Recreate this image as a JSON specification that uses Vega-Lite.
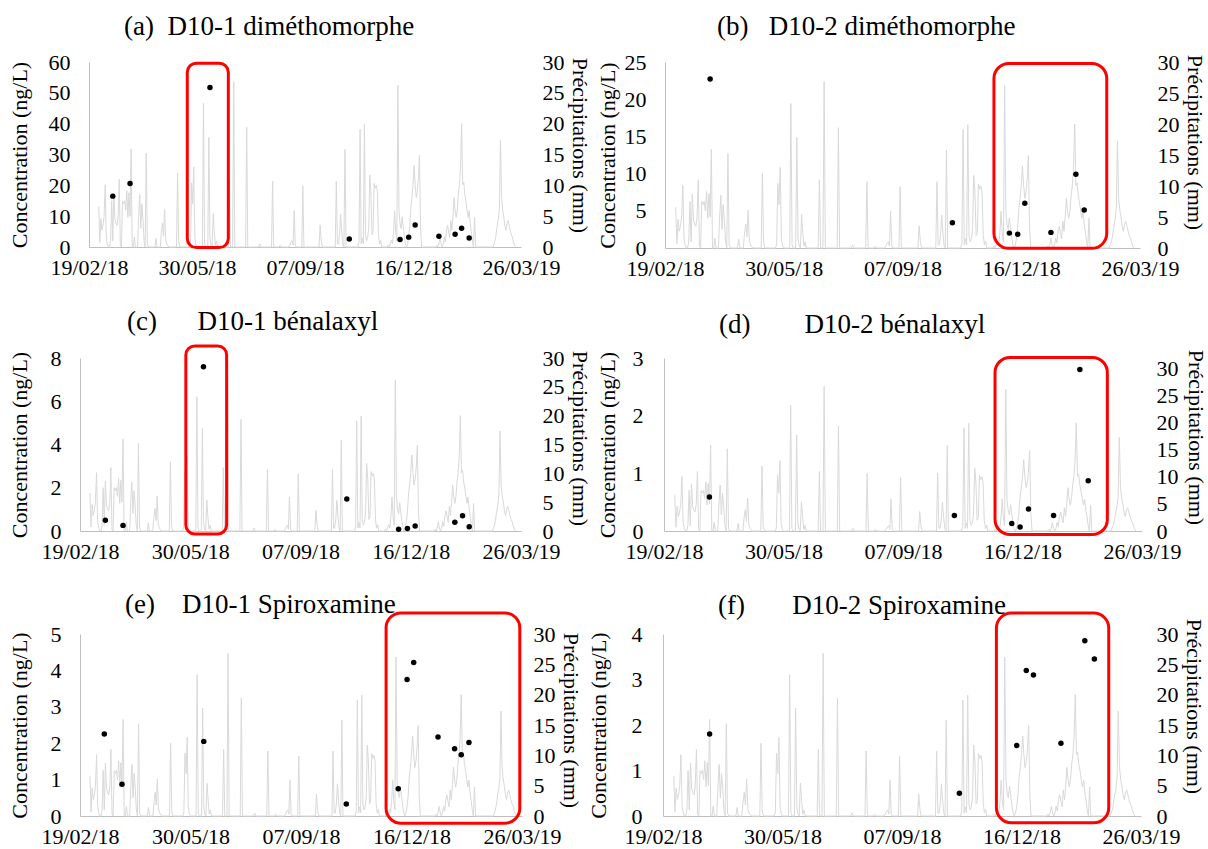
{
"$schema": "https://vega.github.io/schema/vega-lite/v6.json",
"background": "white",
"padding": {"left": 8, "top": 13, "right": 0, "bottom": 5},
"config": {
  "font": "Liberation Serif",
  "view": {"stroke": null},
  "axis": {"grid": false, "ticks": false, "domainColor": "#bfbfbf", "labelFontSize": 22, "titleFontSize": 22, "labelColor": "black", "titleColor": "black", "titleFontWeight": "normal", "labelFont": "Liberation Serif", "titleFont": "Liberation Serif", "labelOverlap": false},
  "axisX": {"labelExpr": "utcFormat(datum.value, '%d/%m/%y')", "labelPadding": 10, "labelFlush": false, "labelOverlap": false},
  "title": {"font": "Liberation Serif", "fontSize": 27, "fontWeight": "normal", "color": "black", "anchor": "start", "frame": "group", "offset": 8}
},
"datasets": {
  "pluie": [
    {"date":"2018-02-28","mm":6.6},{"date":"2018-03-01","mm":0.7},{"date":"2018-03-02","mm":4.6},{"date":"2018-03-03","mm":2.7},{"date":"2018-03-04","mm":3.5},{"date":"2018-03-05","mm":5.0},{"date":"2018-03-06","mm":10.1},{"date":"2018-03-07","mm":1.5},{"date":"2018-03-08","mm":0.5},{"date":"2018-03-09","mm":0},{"date":"2018-03-10","mm":0},{"date":"2018-03-11","mm":1.0},{"date":"2018-03-12","mm":7.5},{"date":"2018-03-13","mm":1.0},{"date":"2018-03-14","mm":8.7},{"date":"2018-03-15","mm":4.5},{"date":"2018-03-16","mm":3.8},{"date":"2018-03-17","mm":3.5},{"date":"2018-03-18","mm":5.0},{"date":"2018-03-19","mm":11.0},{"date":"2018-03-20","mm":0.3},{"date":"2018-03-21","mm":0},{"date":"2018-03-22","mm":7.5},{"date":"2018-03-23","mm":7.0},{"date":"2018-03-24","mm":7.5},{"date":"2018-03-25","mm":6.0},{"date":"2018-03-26","mm":9.1},{"date":"2018-03-27","mm":4.8},{"date":"2018-03-28","mm":8.8},{"date":"2018-03-29","mm":5.0},{"date":"2018-03-30","mm":15.9},{"date":"2018-03-31","mm":0},{"date":"2018-04-01","mm":0},{"date":"2018-04-02","mm":1.6},{"date":"2018-04-03","mm":0},{"date":"2018-04-05","mm":0},{"date":"2018-04-06","mm":5.0},{"date":"2018-04-07","mm":8.5},{"date":"2018-04-08","mm":3.0},{"date":"2018-04-09","mm":7.0},{"date":"2018-04-10","mm":4.5},{"date":"2018-04-11","mm":1.0},{"date":"2018-04-12","mm":0},{"date":"2018-04-13","mm":15.2},{"date":"2018-04-14","mm":0.5},{"date":"2018-04-15","mm":0},{"date":"2018-04-21","mm":0},{"date":"2018-04-22","mm":1.4},{"date":"2018-04-23","mm":0},{"date":"2018-04-26","mm":0},{"date":"2018-04-27","mm":2.4},{"date":"2018-04-28","mm":3.9},{"date":"2018-04-29","mm":1.8},{"date":"2018-04-30","mm":6.1},{"date":"2018-05-01","mm":1.2},{"date":"2018-05-02","mm":0.5},{"date":"2018-05-03","mm":0.2},{"date":"2018-05-04","mm":0},{"date":"2018-05-11","mm":0},{"date":"2018-05-12","mm":12.0},{"date":"2018-05-13","mm":1.0},{"date":"2018-05-14","mm":0},{"date":"2018-05-23","mm":0},{"date":"2018-05-24","mm":0.5},{"date":"2018-05-25","mm":10.4},{"date":"2018-05-26","mm":7.0},{"date":"2018-05-27","mm":13.0},{"date":"2018-05-28","mm":1.5},{"date":"2018-05-29","mm":0.3},{"date":"2018-05-30","mm":0},{"date":"2018-06-04","mm":0},{"date":"2018-06-05","mm":23.3},{"date":"2018-06-06","mm":0.5},{"date":"2018-06-07","mm":0},{"date":"2018-06-09","mm":0},{"date":"2018-06-10","mm":17.8},{"date":"2018-06-11","mm":1.5},{"date":"2018-06-12","mm":0.3},{"date":"2018-06-13","mm":0},{"date":"2018-06-14","mm":5.4},{"date":"2018-06-15","mm":2.5},{"date":"2018-06-16","mm":0.3},{"date":"2018-06-17","mm":1.0},{"date":"2018-06-18","mm":0},{"date":"2018-06-28","mm":0},{"date":"2018-06-29","mm":11.0},{"date":"2018-06-30","mm":0},{"date":"2018-07-02","mm":0},{"date":"2018-07-03","mm":26.8},{"date":"2018-07-04","mm":0},{"date":"2018-07-14","mm":0},{"date":"2018-07-15","mm":19.4},{"date":"2018-07-16","mm":0},{"date":"2018-07-26","mm":0},{"date":"2018-07-27","mm":0.5},{"date":"2018-07-28","mm":0},{"date":"2018-08-07","mm":0},{"date":"2018-08-08","mm":10.7},{"date":"2018-08-09","mm":0},{"date":"2018-08-14","mm":0},{"date":"2018-08-15","mm":0.3},{"date":"2018-08-16","mm":0},{"date":"2018-08-23","mm":0},{"date":"2018-08-24","mm":0.3},{"date":"2018-08-25","mm":0.8},{"date":"2018-08-26","mm":1.0},{"date":"2018-08-27","mm":0.3},{"date":"2018-08-28","mm":5.9},{"date":"2018-08-29","mm":0.3},{"date":"2018-08-30","mm":0},{"date":"2018-09-04","mm":0},{"date":"2018-09-05","mm":9.9},{"date":"2018-09-06","mm":0},{"date":"2018-09-20","mm":0},{"date":"2018-09-21","mm":3.6},{"date":"2018-09-22","mm":1.1},{"date":"2018-09-23","mm":0},{"date":"2018-10-05","mm":0},{"date":"2018-10-06","mm":10.7},{"date":"2018-10-07","mm":0.5},{"date":"2018-10-08","mm":0.5},{"date":"2018-10-09","mm":2.0},{"date":"2018-10-10","mm":5.3},{"date":"2018-10-11","mm":2.5},{"date":"2018-10-12","mm":0.5},{"date":"2018-10-13","mm":0},{"date":"2018-10-14","mm":15.8},{"date":"2018-10-15","mm":0},{"date":"2018-10-26","mm":0},{"date":"2018-10-27","mm":0.8},{"date":"2018-10-28","mm":19.1},{"date":"2018-10-29","mm":0.5},{"date":"2018-10-30","mm":1.5},{"date":"2018-10-31","mm":0.5},{"date":"2018-11-01","mm":19.9},{"date":"2018-11-02","mm":2.0},{"date":"2018-11-03","mm":1.0},{"date":"2018-11-04","mm":1.5},{"date":"2018-11-05","mm":3.0},{"date":"2018-11-06","mm":11.7},{"date":"2018-11-07","mm":9.0},{"date":"2018-11-08","mm":2.0},{"date":"2018-11-09","mm":2.5},{"date":"2018-11-10","mm":10.3},{"date":"2018-11-11","mm":9.5},{"date":"2018-11-12","mm":10.0},{"date":"2018-11-13","mm":9.0},{"date":"2018-11-14","mm":2.0},{"date":"2018-11-15","mm":0.5},{"date":"2018-11-16","mm":1.1},{"date":"2018-11-17","mm":0},{"date":"2018-11-22","mm":0},{"date":"2018-11-23","mm":0.3},{"date":"2018-11-24","mm":0},{"date":"2018-11-26","mm":1.1},{"date":"2018-11-27","mm":0.5},{"date":"2018-11-28","mm":2.4},{"date":"2018-11-29","mm":5.9},{"date":"2018-11-30","mm":2.4},{"date":"2018-12-01","mm":1.0},{"date":"2018-12-02","mm":26.2},{"date":"2018-12-03","mm":5.9},{"date":"2018-12-04","mm":3.8},{"date":"2018-12-05","mm":3.0},{"date":"2018-12-06","mm":4.9},{"date":"2018-12-07","mm":3.3},{"date":"2018-12-08","mm":1.6},{"date":"2018-12-09","mm":0.5},{"date":"2018-12-10","mm":0},{"date":"2018-12-11","mm":0.5},{"date":"2018-12-12","mm":1.6},{"date":"2018-12-13","mm":3.3},{"date":"2018-12-14","mm":6.5},{"date":"2018-12-15","mm":8.0},{"date":"2018-12-16","mm":10.1},{"date":"2018-12-17","mm":13.2},{"date":"2018-12-18","mm":10.1},{"date":"2018-12-19","mm":8.0},{"date":"2018-12-20","mm":9.0},{"date":"2018-12-21","mm":11.1},{"date":"2018-12-22","mm":14.9},{"date":"2018-12-23","mm":3.3},{"date":"2018-12-24","mm":0},{"date":"2019-01-06","mm":0},{"date":"2019-01-07","mm":0.3},{"date":"2019-01-08","mm":0},{"date":"2019-01-09","mm":0.5},{"date":"2019-01-10","mm":1.6},{"date":"2019-01-11","mm":0.5},{"date":"2019-01-12","mm":0},{"date":"2019-01-13","mm":0.5},{"date":"2019-01-14","mm":1.6},{"date":"2019-01-15","mm":0.8},{"date":"2019-01-16","mm":2.7},{"date":"2019-01-17","mm":3.5},{"date":"2019-01-18","mm":2.4},{"date":"2019-01-19","mm":1.5},{"date":"2019-01-20","mm":4.3},{"date":"2019-01-21","mm":2.7},{"date":"2019-01-22","mm":5.0},{"date":"2019-01-23","mm":8.0},{"date":"2019-01-24","mm":5.9},{"date":"2019-01-25","mm":4.8},{"date":"2019-01-26","mm":6.0},{"date":"2019-01-27","mm":8.5},{"date":"2019-01-28","mm":10.1},{"date":"2019-01-29","mm":13.0},{"date":"2019-01-30","mm":20.0},{"date":"2019-01-31","mm":10.1},{"date":"2019-02-01","mm":10.5},{"date":"2019-02-02","mm":8.5},{"date":"2019-02-03","mm":7.4},{"date":"2019-02-04","mm":6.0},{"date":"2019-02-05","mm":4.8},{"date":"2019-02-06","mm":5.9},{"date":"2019-02-07","mm":3.8},{"date":"2019-02-08","mm":2.5},{"date":"2019-02-09","mm":1.0},{"date":"2019-02-10","mm":0},{"date":"2019-02-11","mm":4.8},{"date":"2019-02-12","mm":0},{"date":"2019-02-28","mm":0},{"date":"2019-03-01","mm":0.5},{"date":"2019-03-02","mm":1.0},{"date":"2019-03-03","mm":2.1},{"date":"2019-03-04","mm":3.5},{"date":"2019-03-05","mm":4.5},{"date":"2019-03-06","mm":6.3},{"date":"2019-03-07","mm":17.3},{"date":"2019-03-08","mm":8.0},{"date":"2019-03-09","mm":6.1},{"date":"2019-03-10","mm":5.0},{"date":"2019-03-11","mm":3.5},{"date":"2019-03-12","mm":2.7},{"date":"2019-03-13","mm":3.8},{"date":"2019-03-14","mm":4.3},{"date":"2019-03-15","mm":3.5},{"date":"2019-03-16","mm":2.7},{"date":"2019-03-17","mm":2.0},{"date":"2019-03-18","mm":1.6},{"date":"2019-03-19","mm":0.8},{"date":"2019-03-20","mm":0.3},{"date":"2019-03-21","mm":0}
  ],
  "conc": [
    {"panel":"a","date":"2018-03-13","conc":16.5},{"panel":"a","date":"2018-03-29","conc":20.6},{"panel":"a","date":"2018-06-11","conc":51.7},{"panel":"a","date":"2018-10-18","conc":2.6},{"panel":"a","date":"2018-12-04","conc":2.4},{"panel":"a","date":"2018-12-12","conc":3.2},{"panel":"a","date":"2018-12-18","conc":7.1},{"panel":"a","date":"2019-01-09","conc":3.5},{"panel":"a","date":"2019-01-24","conc":4.1},{"panel":"a","date":"2019-01-30","conc":6.1},{"panel":"a","date":"2019-02-06","conc":2.9},
    {"panel":"b","date":"2018-03-29","conc":22.7},{"panel":"b","date":"2018-10-19","conc":3.4},{"panel":"b","date":"2018-12-06","conc":2.0},{"panel":"b","date":"2018-12-13","conc":1.85},{"panel":"b","date":"2018-12-19","conc":6.0},{"panel":"b","date":"2019-01-10","conc":2.1},{"panel":"b","date":"2019-01-31","conc":9.9},{"panel":"b","date":"2019-02-07","conc":5.1},
    {"panel":"c","date":"2018-03-14","conc":0.5},{"panel":"c","date":"2018-03-30","conc":0.26},{"panel":"c","date":"2018-06-11","conc":7.6},{"panel":"c","date":"2018-10-19","conc":1.48},{"panel":"c","date":"2018-12-05","conc":0.08},{"panel":"c","date":"2018-12-13","conc":0.12},{"panel":"c","date":"2018-12-20","conc":0.23},{"panel":"c","date":"2019-01-25","conc":0.4},{"panel":"c","date":"2019-02-01","conc":0.71},{"panel":"c","date":"2019-02-07","conc":0.2},
    {"panel":"d","date":"2018-03-29","conc":0.59},{"panel":"d","date":"2018-10-20","conc":0.27},{"panel":"d","date":"2018-12-07","conc":0.13},{"panel":"d","date":"2018-12-14","conc":0.07},{"panel":"d","date":"2018-12-21","conc":0.38},{"panel":"d","date":"2019-01-11","conc":0.27},{"panel":"d","date":"2019-02-02","conc":2.8},{"panel":"d","date":"2019-02-09","conc":0.87},
    {"panel":"e","date":"2018-03-13","conc":2.25},{"panel":"e","date":"2018-03-29","conc":0.87},{"panel":"e","date":"2018-06-11","conc":2.05},{"panel":"e","date":"2018-10-18","conc":0.33},{"panel":"e","date":"2018-12-04","conc":0.75},{"panel":"e","date":"2018-12-12","conc":3.75},{"panel":"e","date":"2018-12-18","conc":4.22},{"panel":"e","date":"2019-01-09","conc":2.17},{"panel":"e","date":"2019-01-24","conc":1.85},{"panel":"e","date":"2019-01-30","conc":1.68},{"panel":"e","date":"2019-02-06","conc":2.02},
    {"panel":"f","date":"2018-03-30","conc":1.8},{"panel":"f","date":"2018-10-25","conc":0.5},{"panel":"f","date":"2018-12-12","conc":1.55},{"panel":"f","date":"2018-12-20","conc":3.2},{"panel":"f","date":"2018-12-26","conc":3.1},{"panel":"f","date":"2019-01-18","conc":1.6},{"panel":"f","date":"2019-02-07","conc":3.85},{"panel":"f","date":"2019-02-15","conc":3.45}
  ],
  "cadres": [
    {"panel":"a","debut":"2018-05-21","fin":"2018-06-28","haut":59.6,"bas":-0.2},
    {"panel":"b","debut":"2018-11-23","fin":"2019-02-26","haut":24.8,"bas":-0.05},
    {"panel":"c","debut":"2018-05-26","fin":"2018-07-02","haut":8.56,"bas":-0.14},
    {"panel":"d","debut":"2018-11-23","fin":"2019-02-25","haut":3.01,"bas":-0.06},
    {"panel":"e","debut":"2018-11-23","fin":"2019-03-24","haut":5.58,"bas":-0.2},
    {"panel":"f","debut":"2018-11-25","fin":"2019-02-27","haut":4.46,"bas":-0.15}
  ]
},
"spacing": 29,
"vconcat": [
 {"spacing": 6, "hconcat": [
  {"width": 432, "height": 185,
   "title": {"text": "(a)\u00a0\u00a0D10-1 diméthomorphe", "dx": 35, "offset": 10},
   "layer": [
    {"data": {"name": "pluie"}, "mark": {"type": "line", "color": "#d9d9d9", "strokeWidth": 1},
     "encoding": {
      "x": {"field": "date", "type": "temporal", "title": null, "scale": {"type": "utc", "domain": [{"year":2018,"month":2,"date":19,"utc":true},{"year":2019,"month":3,"date":26,"utc":true}]}, "axis": {"values": [{"year":2018,"month":2,"date":19,"utc":true},{"year":2018,"month":5,"date":30,"utc":true},{"year":2018,"month":9,"date":7,"utc":true},{"year":2018,"month":12,"date":16,"utc":true},{"year":2019,"month":3,"date":26,"utc":true}]}},
      "y": {"field": "mm", "type": "quantitative", "scale": {"domain": [0, 30]}, "axis": {"orient": "right", "title": "Précipitations (mm)", "values": [0,5,10,15,20,25,30], "domain": false, "labelPadding": 21, "titlePadding": 3, "titleY": 83}}}},
    {"layer": [
     {"data": {"name": "conc"}, "transform": [{"filter": "datum.panel == 'a'"}], "mark": {"type": "circle", "color": "black", "size": 30, "opacity": 1},
      "encoding": {"x": {"field": "date", "type": "temporal", "title": null, "axis": {"values": [{"year":2018,"month":2,"date":19,"utc":true},{"year":2018,"month":5,"date":30,"utc":true},{"year":2018,"month":9,"date":7,"utc":true},{"year":2018,"month":12,"date":16,"utc":true},{"year":2019,"month":3,"date":26,"utc":true}]}}, "y": {"field": "conc", "type": "quantitative", "scale": {"domain": [0, 60]}, "axis": {"orient": "left", "title": "Concentration (ng/L)", "values": [0,10,20,30,40,50,60], "format": "d", "labelPadding": 19, "titlePadding": 17}}}},
     {"data": {"name": "cadres"}, "transform": [{"filter": "datum.panel == 'a'"}], "mark": {"type": "rect", "fill": null, "stroke": "#ff0000", "strokeWidth": 3, "cornerRadius": 9},
      "encoding": {"x": {"field": "debut", "type": "temporal", "title": null, "axis": {"values": [{"year":2018,"month":2,"date":19,"utc":true},{"year":2018,"month":5,"date":30,"utc":true},{"year":2018,"month":9,"date":7,"utc":true},{"year":2018,"month":12,"date":16,"utc":true},{"year":2019,"month":3,"date":26,"utc":true}]}}, "x2": {"field": "fin"}, "y": {"field": "haut", "type": "quantitative", "scale": {"domain": [0, 60]}, "axis": {"orient": "left", "title": "Concentration (ng/L)", "values": [0,10,20,30,40,50,60], "format": "d", "labelPadding": 19, "titlePadding": 17}}, "y2": {"field": "bas"}}}
    ]}
   ],
   "resolve": {"scale": {"y": "independent"}}
  },
  {"width": 475, "height": 186,
   "title": {"text": "(b)\u00a0\u00a0\u00a0D10-2 diméthomorphe", "dx": 52, "offset": 10},
   "layer": [
    {"data": {"name": "pluie"}, "mark": {"type": "line", "color": "#d9d9d9", "strokeWidth": 1},
     "encoding": {
      "x": {"field": "date", "type": "temporal", "title": null, "scale": {"type": "utc", "domain": [{"year":2018,"month":2,"date":19,"utc":true},{"year":2019,"month":3,"date":26,"utc":true}]}, "axis": {"values": [{"year":2018,"month":2,"date":19,"utc":true},{"year":2018,"month":5,"date":30,"utc":true},{"year":2018,"month":9,"date":7,"utc":true},{"year":2018,"month":12,"date":16,"utc":true},{"year":2019,"month":3,"date":26,"utc":true}]}},
      "y": {"field": "mm", "type": "quantitative", "scale": {"domain": [0, 30]}, "axis": {"orient": "right", "title": "Précipitations (mm)", "values": [0,5,10,15,20,25,30], "domain": false, "labelPadding": 17, "titlePadding": 3, "titleY": 80}}}},
    {"layer": [
     {"data": {"name": "conc"}, "transform": [{"filter": "datum.panel == 'b'"}], "mark": {"type": "circle", "color": "black", "size": 30, "opacity": 1},
      "encoding": {"x": {"field": "date", "type": "temporal", "title": null, "axis": {"values": [{"year":2018,"month":2,"date":19,"utc":true},{"year":2018,"month":5,"date":30,"utc":true},{"year":2018,"month":9,"date":7,"utc":true},{"year":2018,"month":12,"date":16,"utc":true},{"year":2019,"month":3,"date":26,"utc":true}]}}, "y": {"field": "conc", "type": "quantitative", "scale": {"domain": [0, 25]}, "axis": {"orient": "left", "title": "Concentration (ng/L)", "values": [0,5,10,15,20,25], "format": "d", "labelPadding": 19, "titlePadding": 5}}}},
     {"data": {"name": "cadres"}, "transform": [{"filter": "datum.panel == 'b'"}], "mark": {"type": "rect", "fill": null, "stroke": "#ff0000", "strokeWidth": 3, "cornerRadius": 15},
      "encoding": {"x": {"field": "debut", "type": "temporal", "title": null, "axis": {"values": [{"year":2018,"month":2,"date":19,"utc":true},{"year":2018,"month":5,"date":30,"utc":true},{"year":2018,"month":9,"date":7,"utc":true},{"year":2018,"month":12,"date":16,"utc":true},{"year":2019,"month":3,"date":26,"utc":true}]}}, "x2": {"field": "fin"}, "y": {"field": "haut", "type": "quantitative", "scale": {"domain": [0, 25]}, "axis": {"orient": "left", "title": "Concentration (ng/L)", "values": [0,5,10,15,20,25], "format": "d", "labelPadding": 19, "titlePadding": 5}}, "y2": {"field": "bas"}}}
    ]}
   ],
   "resolve": {"scale": {"y": "independent"}}
  }
 ]},
 {"spacing": 6, "hconcat": [
  {"width": 432, "height": 173,
   "title": {"text": "(c)\u00a0\u00a0\u00a0\u00a0\u00a0\u00a0D10-1 bénalaxyl", "dx": 38},
   "layer": [
    {"data": {"name": "pluie"}, "mark": {"type": "line", "color": "#d9d9d9", "strokeWidth": 1},
     "encoding": {
      "x": {"field": "date", "type": "temporal", "title": null, "scale": {"type": "utc", "range": [-9, 432], "domain": [{"year":2018,"month":2,"date":19,"utc":true},{"year":2019,"month":3,"date":26,"utc":true}]}, "axis": {"values": [{"year":2018,"month":2,"date":19,"utc":true},{"year":2018,"month":5,"date":30,"utc":true},{"year":2018,"month":9,"date":7,"utc":true},{"year":2018,"month":12,"date":16,"utc":true},{"year":2019,"month":3,"date":26,"utc":true}]}},
      "y": {"field": "mm", "type": "quantitative", "scale": {"domain": [0, 30]}, "axis": {"orient": "right", "title": "Précipitations (mm)", "values": [0,5,10,15,20,25,30], "domain": false, "labelPadding": 21, "titlePadding": 3, "titleY": 80}}}},
    {"layer": [
     {"data": {"name": "conc"}, "transform": [{"filter": "datum.panel == 'c'"}], "mark": {"type": "circle", "color": "black", "size": 30, "opacity": 1},
      "encoding": {"x": {"field": "date", "type": "temporal", "title": null, "axis": {"values": [{"year":2018,"month":2,"date":19,"utc":true},{"year":2018,"month":5,"date":30,"utc":true},{"year":2018,"month":9,"date":7,"utc":true},{"year":2018,"month":12,"date":16,"utc":true},{"year":2019,"month":3,"date":26,"utc":true}]}}, "y": {"field": "conc", "type": "quantitative", "scale": {"domain": [0, 8]}, "axis": {"orient": "left", "offset": 9, "title": "Concentration (ng/L)", "values": [0,2,4,6,8], "format": "d", "labelPadding": 19, "titlePadding": 19}}}},
     {"data": {"name": "cadres"}, "transform": [{"filter": "datum.panel == 'c'"}], "mark": {"type": "rect", "fill": null, "stroke": "#ff0000", "strokeWidth": 3, "cornerRadius": 9},
      "encoding": {"x": {"field": "debut", "type": "temporal", "title": null, "axis": {"values": [{"year":2018,"month":2,"date":19,"utc":true},{"year":2018,"month":5,"date":30,"utc":true},{"year":2018,"month":9,"date":7,"utc":true},{"year":2018,"month":12,"date":16,"utc":true},{"year":2019,"month":3,"date":26,"utc":true}]}}, "x2": {"field": "fin"}, "y": {"field": "haut", "type": "quantitative", "scale": {"domain": [0, 8]}, "axis": {"orient": "left", "offset": 9, "title": "Concentration (ng/L)", "values": [0,2,4,6,8], "format": "d", "labelPadding": 19, "titlePadding": 19}}, "y2": {"field": "bas"}}}
    ]}
   ],
   "resolve": {"scale": {"y": "independent"}}
  },
  {"width": 478, "height": 173,
   "title": {"text": "(d)\u00a0\u00a0\u00a0\u00a0\u00a0\u00a0\u00a0\u00a0D10-2 bénalaxyl", "dx": 55},
   "layer": [
    {"data": {"name": "pluie"}, "mark": {"type": "line", "color": "#d9d9d9", "strokeWidth": 1},
     "encoding": {
      "x": {"field": "date", "type": "temporal", "title": null, "scale": {"type": "utc", "domain": [{"year":2018,"month":2,"date":19,"utc":true},{"year":2019,"month":3,"date":26,"utc":true}]}, "axis": {"values": [{"year":2018,"month":2,"date":19,"utc":true},{"year":2018,"month":5,"date":30,"utc":true},{"year":2018,"month":9,"date":7,"utc":true},{"year":2018,"month":12,"date":16,"utc":true},{"year":2019,"month":3,"date":26,"utc":true}]}},
      "y": {"field": "mm", "type": "quantitative", "scale": {"domain": [0, 32]}, "axis": {"orient": "right", "title": "Précipitations (mm)", "values": [0,5,10,15,20,25,30], "domain": false, "labelPadding": 14, "titlePadding": 5, "titleY": 79}}}},
    {"layer": [
     {"data": {"name": "conc"}, "transform": [{"filter": "datum.panel == 'd'"}], "mark": {"type": "circle", "color": "black", "size": 30, "opacity": 1},
      "encoding": {"x": {"field": "date", "type": "temporal", "title": null, "axis": {"values": [{"year":2018,"month":2,"date":19,"utc":true},{"year":2018,"month":5,"date":30,"utc":true},{"year":2018,"month":9,"date":7,"utc":true},{"year":2018,"month":12,"date":16,"utc":true},{"year":2019,"month":3,"date":26,"utc":true}]}}, "y": {"field": "conc", "type": "quantitative", "scale": {"domain": [0, 3]}, "axis": {"orient": "left", "title": "Concentration (ng/L)", "values": [0,1,2,3], "format": "d", "labelPadding": 21, "titlePadding": 13}}}},
     {"data": {"name": "cadres"}, "transform": [{"filter": "datum.panel == 'd'"}], "mark": {"type": "rect", "fill": null, "stroke": "#ff0000", "strokeWidth": 3, "cornerRadius": 15},
      "encoding": {"x": {"field": "debut", "type": "temporal", "title": null, "axis": {"values": [{"year":2018,"month":2,"date":19,"utc":true},{"year":2018,"month":5,"date":30,"utc":true},{"year":2018,"month":9,"date":7,"utc":true},{"year":2018,"month":12,"date":16,"utc":true},{"year":2019,"month":3,"date":26,"utc":true}]}}, "x2": {"field": "fin"}, "y": {"field": "haut", "type": "quantitative", "scale": {"domain": [0, 3]}, "axis": {"orient": "left", "title": "Concentration (ng/L)", "values": [0,1,2,3], "format": "d", "labelPadding": 21, "titlePadding": 13}}, "y2": {"field": "bas"}}}
    ]}
   ],
   "resolve": {"scale": {"y": "independent"}}
  }
 ]},
 {"spacing": 6, "hconcat": [
  {"width": 433, "height": 182,
   "title": {"text": "(e)\u00a0\u00a0\u00a0\u00a0D10-1 Spiroxamine", "dx": 36, "offset": -8},
   "layer": [
    {"data": {"name": "pluie"}, "mark": {"type": "line", "color": "#d9d9d9", "strokeWidth": 1},
     "encoding": {
      "x": {"field": "date", "type": "temporal", "title": null, "scale": {"type": "utc", "range": [-9, 433], "domain": [{"year":2018,"month":2,"date":19,"utc":true},{"year":2019,"month":3,"date":26,"utc":true}]}, "axis": {"values": [{"year":2018,"month":2,"date":19,"utc":true},{"year":2018,"month":5,"date":30,"utc":true},{"year":2018,"month":9,"date":7,"utc":true},{"year":2018,"month":12,"date":16,"utc":true},{"year":2019,"month":3,"date":26,"utc":true}]}},
      "y": {"field": "mm", "type": "quantitative", "scale": {"domain": [0, 30]}, "axis": {"orient": "right", "title": "Précipitations (mm)", "values": [0,5,10,15,20,25,30], "domain": false, "labelPadding": 11, "titlePadding": 3, "titleY": 86}}}},
    {"layer": [
     {"data": {"name": "conc"}, "transform": [{"filter": "datum.panel == 'e'"}], "mark": {"type": "circle", "color": "black", "size": 30, "opacity": 1},
      "encoding": {"x": {"field": "date", "type": "temporal", "title": null, "axis": {"values": [{"year":2018,"month":2,"date":19,"utc":true},{"year":2018,"month":5,"date":30,"utc":true},{"year":2018,"month":9,"date":7,"utc":true},{"year":2018,"month":12,"date":16,"utc":true},{"year":2019,"month":3,"date":26,"utc":true}]}}, "y": {"field": "conc", "type": "quantitative", "scale": {"domain": [0, 5]}, "axis": {"orient": "left", "offset": 9, "title": "Concentration (ng/L)", "values": [0,1,2,3,4,5], "format": "d", "labelPadding": 19, "titlePadding": 19}}}},
     {"data": {"name": "cadres"}, "transform": [{"filter": "datum.panel == 'e'"}], "mark": {"type": "rect", "fill": null, "stroke": "#ff0000", "strokeWidth": 3, "cornerRadius": 15},
      "encoding": {"x": {"field": "debut", "type": "temporal", "title": null, "axis": {"values": [{"year":2018,"month":2,"date":19,"utc":true},{"year":2018,"month":5,"date":30,"utc":true},{"year":2018,"month":9,"date":7,"utc":true},{"year":2018,"month":12,"date":16,"utc":true},{"year":2019,"month":3,"date":26,"utc":true}]}}, "x2": {"field": "fin"}, "y": {"field": "haut", "type": "quantitative", "scale": {"domain": [0, 5]}, "axis": {"orient": "left", "offset": 9, "title": "Concentration (ng/L)", "values": [0,1,2,3,4,5], "format": "d", "labelPadding": 19, "titlePadding": 19}}, "y2": {"field": "bas"}}}
    ]}
   ],
   "resolve": {"scale": {"y": "independent"}}
  },
  {"width": 478, "height": 182,
   "title": {"text": "(f)\u00a0\u00a0\u00a0\u00a0\u00a0\u00a0\u00a0D10-2 Spiroxamine", "dx": 55, "offset": -8},
   "layer": [
    {"data": {"name": "pluie"}, "mark": {"type": "line", "color": "#d9d9d9", "strokeWidth": 1},
     "encoding": {
      "x": {"field": "date", "type": "temporal", "title": null, "scale": {"type": "utc", "domain": [{"year":2018,"month":2,"date":19,"utc":true},{"year":2019,"month":3,"date":26,"utc":true}]}, "axis": {"values": [{"year":2018,"month":2,"date":19,"utc":true},{"year":2018,"month":5,"date":30,"utc":true},{"year":2018,"month":9,"date":7,"utc":true},{"year":2018,"month":12,"date":16,"utc":true},{"year":2019,"month":3,"date":26,"utc":true}]}},
      "y": {"field": "mm", "type": "quantitative", "scale": {"domain": [0, 30]}, "axis": {"orient": "right", "title": "Précipitations (mm)", "values": [0,5,10,15,20,25,30], "domain": false, "labelPadding": 15, "titlePadding": 3, "titleY": 72}}}},
    {"layer": [
     {"data": {"name": "conc"}, "transform": [{"filter": "datum.panel == 'f'"}], "mark": {"type": "circle", "color": "black", "size": 30, "opacity": 1},
      "encoding": {"x": {"field": "date", "type": "temporal", "title": null, "axis": {"values": [{"year":2018,"month":2,"date":19,"utc":true},{"year":2018,"month":5,"date":30,"utc":true},{"year":2018,"month":9,"date":7,"utc":true},{"year":2018,"month":12,"date":16,"utc":true},{"year":2019,"month":3,"date":26,"utc":true}]}}, "y": {"field": "conc", "type": "quantitative", "scale": {"domain": [0, 4]}, "axis": {"orient": "left", "title": "Concentration (ng/L)", "values": [0,1,2,3,4], "format": "d", "labelPadding": 21, "titlePadding": 21}}}},
     {"data": {"name": "cadres"}, "transform": [{"filter": "datum.panel == 'f'"}], "mark": {"type": "rect", "fill": null, "stroke": "#ff0000", "strokeWidth": 3, "cornerRadius": 15},
      "encoding": {"x": {"field": "debut", "type": "temporal", "title": null, "axis": {"values": [{"year":2018,"month":2,"date":19,"utc":true},{"year":2018,"month":5,"date":30,"utc":true},{"year":2018,"month":9,"date":7,"utc":true},{"year":2018,"month":12,"date":16,"utc":true},{"year":2019,"month":3,"date":26,"utc":true}]}}, "x2": {"field": "fin"}, "y": {"field": "haut", "type": "quantitative", "scale": {"domain": [0, 4]}, "axis": {"orient": "left", "title": "Concentration (ng/L)", "values": [0,1,2,3,4], "format": "d", "labelPadding": 21, "titlePadding": 21}}, "y2": {"field": "bas"}}}
    ]}
   ],
   "resolve": {"scale": {"y": "independent"}}
  }
 ]}
]
}
